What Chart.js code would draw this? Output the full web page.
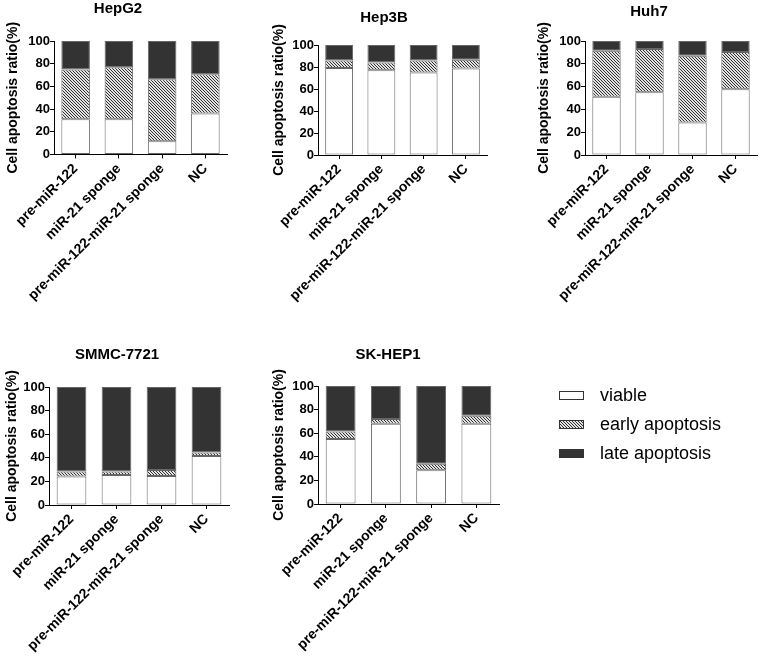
<!DOCTYPE html>
<html><head><meta charset="utf-8">
<script src="https://cdn.jsdelivr.net/npm/chart.js@4.4.0/dist/chart.umd.min.js"></script>
<style>
html,body{margin:0;padding:0;background:#fff;overflow:hidden;width:760px;height:663px;}
canvas{position:absolute;}
</style></head><body>
<canvas id="c1"></canvas>
<canvas id="c2"></canvas>
<canvas id="c3"></canvas>
<canvas id="c4"></canvas>
<canvas id="c5"></canvas>
<canvas id="cl"></canvas>
<script>
const categories = ['pre-miR-122', 'miR-21 sponge', 'pre-miR-122-miR-21 sponge', 'NC'];
const seriesNames = ['viable', 'early apoptosis', 'late apoptosis'];
const yTicks = [0, 20, 40, 60, 80, 100];
const yTitle = 'Cell apoptosis ratio(%)';

const hepg2Viable = [31, 31, 11.6, 36.2];
const hepg2Early  = [43.8, 45.8, 54.8, 34.5];
const hepg2Late   = [25.2, 23.2, 33.6, 29.3];

const hep3bViable = [79, 77, 75, 78.7];
const hep3bEarly  = [7, 7, 11, 8];
const hep3bLate   = [14, 16, 14, 13.3];

const huh7Viable = [51.2, 55, 28.4, 57.6];
const huh7Early  = [40.3, 38, 58.7, 32.8];
const huh7Late   = [8.5, 7, 12.9, 9.6];

const smmcViable = [24.1, 25.5, 24.6, 41.6];
const smmcEarly  = [4.2, 2.8, 5.1, 2.9];
const smmcLate   = [71.7, 71.7, 70.3, 55.5];

const skhepViable = [55, 68, 28.5, 68];
const skhepEarly  = [6.4, 4.1, 5.6, 6.7];
const skhepLate   = [38.6, 27.9, 65.9, 25.4];

Chart.defaults.font.family = "'Liberation Sans', Arial, sans-serif";
Chart.defaults.color = '#000';

function makeHatch() {
  const n = 3;
  const c = document.createElement('canvas'); c.width = n; c.height = n;
  const g = c.getContext('2d');
  const img = g.createImageData(n, n);
  for (let y = 0; y < n; y++) for (let x = 0; x < n; x++) {
    const i = (y * n + x) * 4; const v = (x === y) ? 50 : 225;
    img.data[i] = img.data[i + 1] = img.data[i + 2] = v; img.data[i + 3] = 255;
  }
  g.putImageData(img, 0, 0);
  return g.createPattern(c, 'repeat');
}
const hatch = makeHatch();
const fills = ['#ffffff', hatch, '#333333'];
const edge = '#666666';

function panel(id, p) {
  const cv = document.getElementById(id);
  cv.width = p.W; cv.height = p.H;
  cv.style.left = p.L + 'px'; cv.style.top = p.T + 'px';
  const series = [p.viable, p.early, p.late];
  new Chart(cv, {
    type: 'bar',
    data: {
      labels: categories,
      datasets: series.map((d, i) => ({
        label: seriesNames[i], data: d, backgroundColor: fills[i],
        borderColor: edge, borderWidth: 1, borderSkipped: false,
        barPercentage: 0.66, categoryPercentage: 1, stack: 's'
      }))
    },
    options: {
      responsive: false, animation: false,
      layout: { padding: 0 },
      plugins: {
        legend: { display: false }, tooltip: { enabled: false },
        title: { display: true, text: p.title, color: '#000',
          font: { size: 15, weight: 'bold' }, padding: { top: p.pt, bottom: p.pb } }
      },
      scales: {
        x: {
          stacked: true,
          grid: { display: true, drawOnChartArea: false, drawTicks: true, tickLength: 4, offset: false, color: '#000' },
          border: { display: true, color: '#000', width: 1 },
          ticks: { autoSkip: false, minRotation: 45, maxRotation: 45, padding: 2, color: '#000',
            font: { size: 14, weight: 'bold' } },
          afterFit: s => { s.height = p.xH; }
        },
        y: {
          stacked: true, min: 0, max: 100,
          afterBuildTicks: s => { s.ticks = yTicks.map(v => ({ value: v })); },
          grid: { display: true, drawOnChartArea: false, drawTicks: true, tickLength: 4, color: '#000' },
          border: { display: true, color: '#000', width: 1 },
          ticks: { padding: 0, color: '#000', font: { size: 13, weight: 'bold' } },
          title: { display: true, text: yTitle, color: '#000', padding: 0,
            font: { size: 14, weight: 'bold' } },
          afterFit: s => { s.width = p.Y; }
        },
        y2: {
          type: 'linear', position: 'right', display: true,
          grid: { display: false }, border: { display: false }, ticks: { display: false },
          afterFit: s => { s.width = p.D; }
        }
      }
    }
  });
}

panel('c1', { title: 'HepG2', L: 5, T: 0, W: 226, H: 330, Y: 49, D: 4, pt: 0, pb: 23, xH: 175.5,
  viable: hepg2Viable, early: hepg2Early, late: hepg2Late });
panel('c2', { title: 'Hep3B', L: 271, T: 0, W: 226, H: 330, Y: 47, D: 10, pt: 9, pb: 18, xH: 175,
  viable: hep3bViable, early: hep3bEarly, late: hep3bLate });
panel('c3', { title: 'Huh7', L: 536, T: 0, W: 226, H: 330, Y: 49, D: 5, pt: 2.5, pb: 20.5, xH: 175,
  viable: huh7Viable, early: huh7Early, late: huh7Late });
panel('c4', { title: 'SMMC-7721', L: 4, T: 340, W: 226, H: 323, Y: 45, D: 1, pt: 6, pb: 23, xH: 158,
  viable: smmcViable, early: smmcEarly, late: smmcLate });
panel('c5', { title: 'SK-HEP1', L: 271, T: 340, W: 234, H: 323, Y: 47, D: 6, pt: 6, pb: 22, xH: 159,
  viable: skhepViable, early: skhepEarly, late: skhepLate });

// legend
function legendImg(fill) {
  const c = document.createElement('canvas'); c.width = 32; c.height = 10;
  const g = c.getContext('2d');
  g.fillStyle = fill; g.fillRect(0.5, 0.5, 24, 8);
  g.strokeStyle = '#333'; g.lineWidth = 1; g.strokeRect(0.5, 0.5, 24, 8);
  return c;
}
const legendImgs = fills.map(legendImg);
(function () {
  const cv = document.getElementById('cl');
  cv.width = 212; cv.height = 240;
  cv.style.left = '548px'; cv.style.top = '376px';
  new Chart(cv, {
    type: 'bar',
    data: { labels: [], datasets: seriesNames.map((n, i) => ({ label: n, data: [], backgroundColor: fills[i] })) },
    options: {
      responsive: false, animation: false,
      scales: { x: { display: false }, y: { display: false } },
      plugins: {
        tooltip: { enabled: false },
        legend: {
          display: true, position: 'top', align: 'start',
          labels: {
            color: '#000', font: { size: 18 }, padding: 11,
            usePointStyle: true, pointStyleWidth: 32,
            generateLabels: chart => {
              const items = Chart.defaults.plugins.legend.labels.generateLabels(chart);
              items.forEach((it, i) => { it.pointStyle = legendImgs[i]; it.hidden = false; });
              return items;
            }
          }
        }
      }
    }
  });
})();
</script>
</body></html>
